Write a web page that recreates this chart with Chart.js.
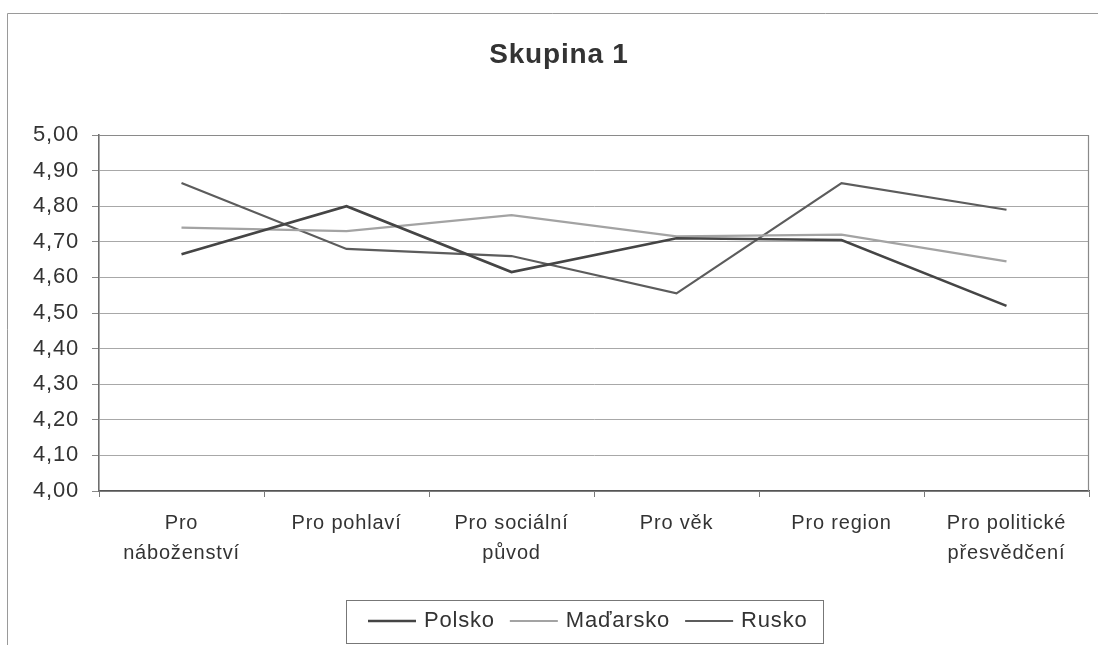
<!DOCTYPE html>
<html>
<head>
<meta charset="utf-8">
<script src="https://cdn.jsdelivr.net/npm/chart.js@4"></script>
<style>
  html, body { margin: 0; padding: 0; background: #fff; }
  #wrap { width: 1098px; height: 645px; }
</style>
</head>
<body>
<div id="wrap"><canvas id="chart" width="1098" height="645"></canvas></div>
<script>
const title = "Skupina 1"
const categories = [
  ["Pro", "náboženství"],
  ["Pro pohlaví"],
  ["Pro sociální", "původ"],
  ["Pro věk"],
  ["Pro region"],
  ["Pro politické", "přesvědčení"]
]
const polsko = [4.665, 4.80, 4.615, 4.71, 4.705, 4.52]
const madarsko = [4.74, 4.73, 4.775, 4.715, 4.72, 4.645]
const rusko = [4.865, 4.68, 4.66, 4.555, 4.865, 4.79]
const yMin = 4.0
const yMax = 5.0
const yStep = 0.1

const FONT = "'Liberation Sans', Arial, sans-serif"

// frame, title, plot border and legend box
var decorations = {
  id: "decorations",
  beforeDraw(chart) {
    const { ctx } = chart
    // the scanned original has slightly wide text
    ctx.letterSpacing = "0.8px"
    ctx.save()
    ctx.fillStyle = "#fff"
    ctx.fillRect(0, 0, chart.width, chart.height)
    ctx.strokeStyle = "#9a9a9a"
    ctx.lineWidth = 1
    ctx.beginPath()
    ctx.moveTo(7.5, 645)
    ctx.lineTo(7.5, 13.5)
    ctx.lineTo(1098, 13.5)
    ctx.stroke()
    ctx.restore()
  },
  afterDraw(chart) {
    const { ctx, chartArea: { left, right, top } } = chart
    ctx.save()
    // top and right edges of the plot area
    ctx.strokeStyle = "#8a8a8a"
    ctx.lineWidth = 1.2
    ctx.beginPath()
    ctx.moveTo(left, top + 0.5)
    ctx.lineTo(right - 0.5, top + 0.5)
    ctx.lineTo(right - 0.5, chart.chartArea.bottom)
    ctx.stroke()

    // title
    ctx.fillStyle = "#333"
    ctx.font = "bold 28px " + FONT
    ctx.textAlign = "center"
    ctx.textBaseline = "middle"
    ctx.fillText(title, 559, 55)

    // legend
    ctx.font = "22px " + FONT
    const sets = chart.data.datasets
    const lineLen = 48
    const gapLineText = 8
    const gapItems = 15
    const boxL = 346
    const boxW = 477
    const boxT = 600.5
    const boxH = 43
    let x = boxL + 22
    const cy = 621
    ctx.strokeStyle = "#777"
    ctx.lineWidth = 1
    ctx.strokeRect(boxL + 0.5, boxT, boxW, boxH)
    ctx.textAlign = "left"
    sets.forEach((ds) => {
      ctx.strokeStyle = ds.borderColor
      ctx.lineWidth = ds.borderWidth
      ctx.beginPath()
      ctx.moveTo(x, cy)
      ctx.lineTo(x + lineLen, cy)
      ctx.stroke()
      x += lineLen + gapLineText
      ctx.fillStyle = "#333"
      ctx.fillText(ds.label, x, cy)
      x += ctx.measureText(ds.label).width + gapItems
    })
    ctx.restore()
  }
}

const ctx = document.getElementById("chart").getContext("2d")
new Chart(ctx, {
  type: "line",
  data: {
    labels: categories,
    datasets: [
      { label: "Polsko", data: polsko, borderColor: "#454545", borderWidth: 2.6 },
      { label: "Maďarsko", data: madarsko, borderColor: "#a3a3a3", borderWidth: 2.2 },
      { label: "Rusko", data: rusko, borderColor: "#5c5c5c", borderWidth: 2.2 }
    ].map(ds => Object.assign(ds, { pointRadius: 0, tension: 0, fill: false }))
  },
  options: {
    responsive: false,
    animation: false,
    events: [],
    layout: { padding: { left: 0, right: 9, top: 135, bottom: 54 } },
    plugins: {
      legend: { display: false },
      title: { display: false },
      tooltip: { enabled: false }
    },
    scales: {
      x: {
        offset: true,
        grid: {
          offset: true,
          drawOnChartArea: false,
          drawTicks: true,
          tickLength: 6,
          tickColor: "#777"
        },
        border: { color: "#555", width: 1.6 },
        ticks: {
          padding: 11,
          color: "#333",
          maxRotation: 0,
          autoSkip: false,
          font: { family: FONT, size: 20, lineHeight: 1.5 }
        },
        afterFit(scale) { scale.height = 100 }
      },
      y: {
        min: yMin,
        max: yMax,
        grid: {
          color: "#a8a8a8",
          lineWidth: 1,
          tickLength: 7,
          tickColor: "#888"
        },
        border: { color: "#6e6e6e", width: 1.6 },
        ticks: {
          stepSize: yStep,
          padding: 13,
          color: "#333",
          font: { family: FONT, size: 22 },
          callback: (v) => Number(v).toFixed(2).replace(".", ",")
        },
        afterFit(scale) { scale.width = 99 }
      }
    }
  },
  plugins: [decorations]
})
</script>
</body>
</html>
